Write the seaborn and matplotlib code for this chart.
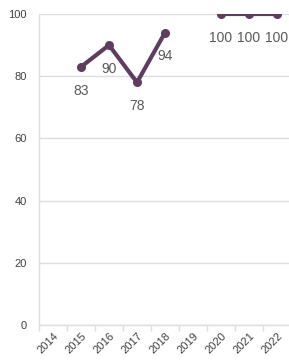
import numpy as np
import pandas as pd
import matplotlib
matplotlib.use("Agg")
import matplotlib.pyplot as plt
import seaborn as sns

years = ["2014", "2015", "2016", "2017", "2018", "2019", "2020", "2021", "2022"]
values = [np.nan, 83, 90, 78, 94, np.nan, 100, 100, 100]

sns.set_style("white")
plt.rcParams["font.family"] = ["Liberation Sans", "DejaVu Sans"]

line_color = "#5e3d61"
grid_color = "#dedede"

df = pd.DataFrame({"pos": np.arange(len(years)), "value": values})
# split into runs so gaps stay gaps
df["seg"] = df["value"].isna().cumsum()
df = df.dropna()

fig = plt.figure(figsize=(2.89, 3.64), dpi=100)
ax = fig.add_axes([39 / 289, 1 - 325 / 364, 252 / 289, (325 - 14) / 364])

sns.lineplot(data=df, x="pos", y="value", units="seg", estimator=None,
             color=line_color, linewidth=3, marker="o", markersize=6.5,
             markeredgewidth=0, ax=ax)

for x, v in zip(df["pos"], df["value"]):
    ax.annotate(f"{v:.0f}", (x, v), xytext=(0, -12), textcoords="offset points",
                ha="center", va="top", fontsize=10, color="#595959")

ax.set_xlim(-0.5, len(years) - 0.5)
ax.set_ylim(0, 100)
ax.set_yticks(range(0, 101, 20))
ax.set_xticks(np.arange(len(years)))
ax.set_xticklabels(years, rotation=45, ha="right", rotation_mode="anchor")
ax.set_xticks(np.arange(len(years) + 1) - 0.5, minor=True)
ax.set_xlabel("")
ax.set_ylabel("")

ax.grid(axis="y", color=grid_color, linewidth=1)
ax.set_axisbelow(True)
for side in ["top", "right"]:
    ax.spines[side].set_visible(False)
ax.spines["left"].set_color(grid_color)
ax.spines["bottom"].set_color(grid_color)
ax.spines["left"].set_linewidth(1)
ax.spines["bottom"].set_linewidth(1)

ax.tick_params(axis="y", length=0, pad=9, labelsize=8, labelcolor="#404040")
ax.tick_params(axis="x", which="major", length=0, pad=4, labelsize=8,
               labelcolor="#404040")
ax.tick_params(axis="x", which="minor", length=4, width=1, color=grid_color,
               bottom=True)

fig.savefig("out.png", dpi=100)
